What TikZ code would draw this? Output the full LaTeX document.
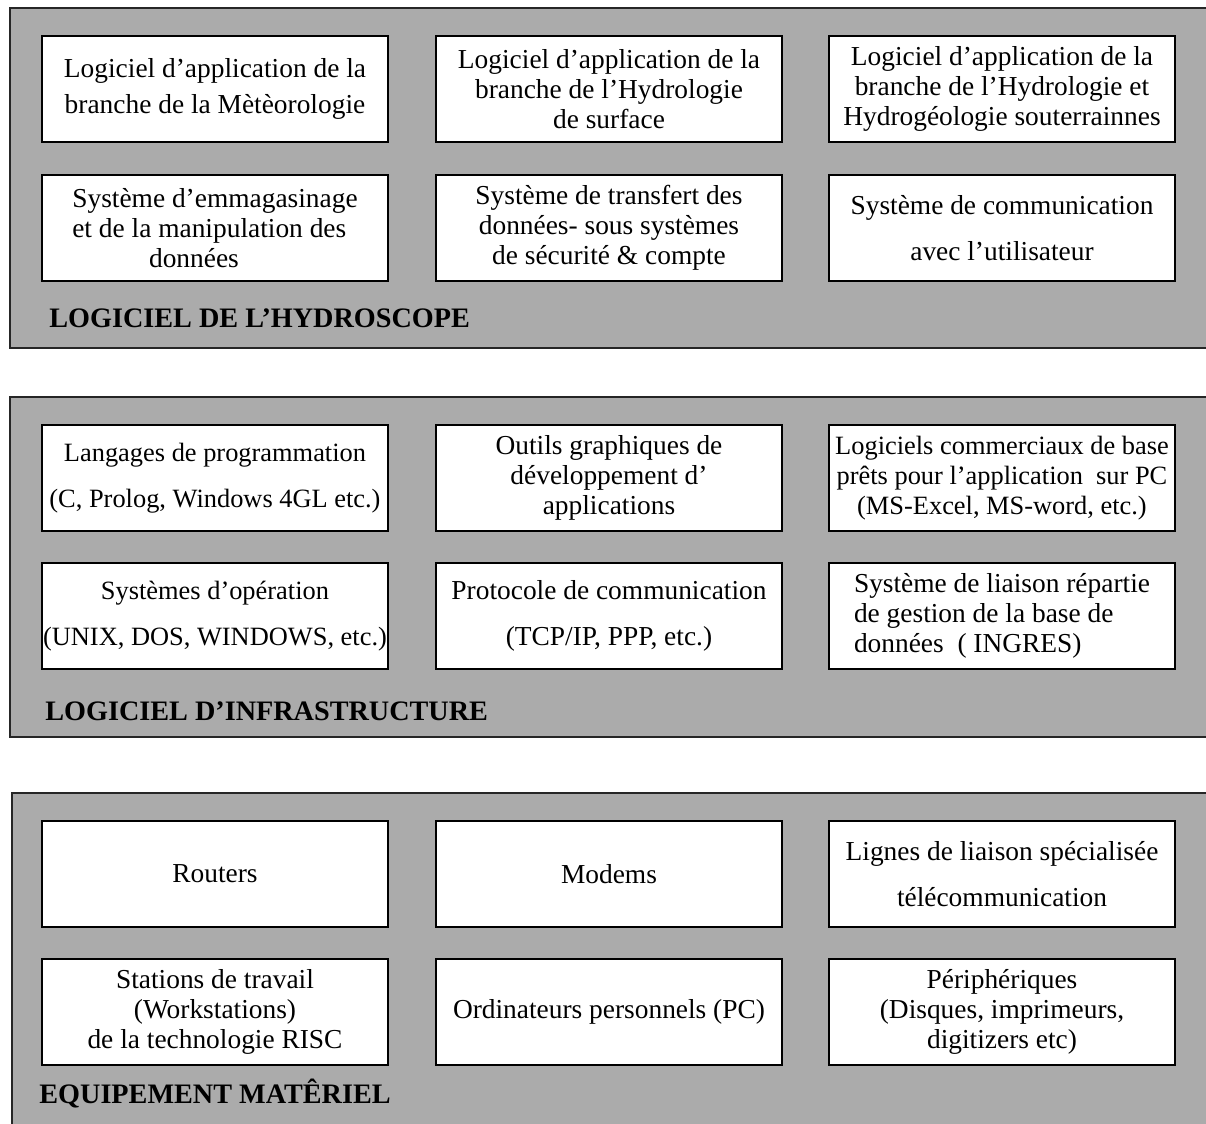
\documentclass[tikz,border=0pt]{standalone}
\usepackage{fontspec}
\setmainfont{Liberation Serif}
\tikzset{
  panel/.style={draw=black!85, line width=0.8pt, fill=black!33},
  module/.style={draw, line width=0.7pt, fill=white, minimum width=173pt,
    minimum height=53pt, align=center, inner xsep=0pt, inner ysep=2pt,
    font=\fontsize{13.7}{15}\selectfont},
  tight/.style={font=\fontsize{13.2}{15}\selectfont},
  layer/.style={anchor=base west, inner sep=0pt,
    font=\fontsize{14.1}{16}\selectfont\bfseries}
}
\begin{document}
\begin{tikzpicture}[x=0.5pt,y=-0.5pt]
  \clip (0,0) rectangle (1206,1124);
  % the three layers
  \draw[panel] (10,8) rectangle (1215,348);
  \draw[panel] (10,397) rectangle (1215,737);
  \draw[panel] (12,793) rectangle (1215,1135);

  % logiciel de l'hydroscope
  \node[module] (hyd1) at (215,89) {Logiciel d’application de la\\[3pt]branche de la Mètèorologie};
  \node[module] (hyd2) at (609,89) {Logiciel d’application de la\\branche de l’Hydrologie\\de surface};
  \node[module] (hyd3) at (1002,89) {Logiciel d’application de la\\branche de l’Hydrologie et\\Hydrogéologie souterrainnes};
  \node[module, align=left] (hyd4) at (215,228) {Système d’emmagasinage\\et de la manipulation des\\\hspace*{2.8em}données};
  \node[module] (hyd5) at (609,228) {Système de transfert des\\données- sous systèmes\\de sécurité \& compte};
  \node[module] (hyd6) at (1002,228) {Système de communication\\[8pt]avec l’utilisateur};
  \node[layer] (hydlab) at (49,327) {LOGICIEL DE L’HYDROSCOPE};

  % logiciel d'infrastructure
  \node[module, tight] (inf1) at (215,478) {Langages de programmation\\[8pt](C, Prolog, Windows 4GL etc.)};
  \node[module] (inf2) at (609,478) {Outils graphiques de\\développement d’\\applications};
  \node[module, tight] (inf3) at (1002,478) {Logiciels commerciaux de base\\prêts pour l’application\ \ sur PC\\(MS-Excel, MS-word, etc.)};
  \node[module, tight] (inf4) at (215,616) {Systèmes d’opération\\[8pt](UNIX, DOS, WINDOWS, etc.)};
  \node[module] (inf5) at (609,616) {Protocole de communication\\[8pt](TCP/IP, PPP, etc.)};
  \node[module, align=left] (inf6) at (1002,616) {Système de liaison répartie\\de gestion de la base de\\données\ \ ( INGRES)};
  \node[layer] (inflab) at (45,720) {LOGICIEL D’INFRASTRUCTURE};

  % equipement materiel
  \node[module] (mat1) at (215,874) {Routers};
  \node[module] (mat2) at (609,874) {Modems};
  \node[module] (mat3) at (1002,874) {Lignes de liaison spécialisée\\[8pt]télécommunication};
  \node[module] (mat4) at (215,1012) {Stations de travail\\(Workstations)\\de la technologie RISC};
  \node[module] (mat5) at (609,1012) {Ordinateurs personnels (PC)};
  \node[module] (mat6) at (1002,1012) {Périphériques\\(Disques, imprimeurs,\\digitizers etc)};
  \node[layer] (matlab) at (39,1103) {EQUIPEMENT MATÊRIEL};
\end{tikzpicture}
\end{document}
